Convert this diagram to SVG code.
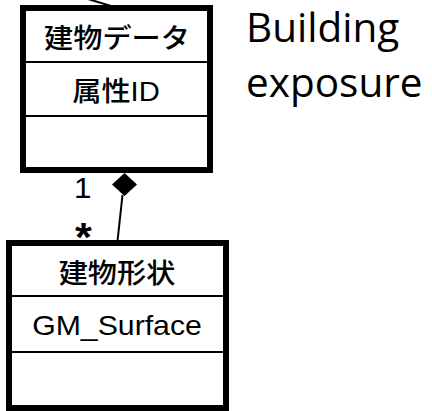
<svg xmlns="http://www.w3.org/2000/svg" width="432" height="411" viewBox="0 0 432 411">
<style>
.box{fill:#fff;stroke:#000;stroke-width:6}
.div{stroke:#000;stroke-width:2}
.jp{font-family:"Liberation Sans","Noto Sans CJK JP",sans-serif;font-size:27px;font-weight:500;fill:#000;text-anchor:middle}
.lbl{font-family:"Liberation Sans",Arial,sans-serif;font-size:28px;fill:#000}
.note{font-family:"Open Sans","Noto Sans",sans-serif;font-size:40.5px;fill:#000}
.conn{stroke:#000;stroke-width:2;fill:none}
</style>
<g id="connectors">
<line class="conn" x1="88" y1="-1" x2="111" y2="6"/>
<line class="conn" x1="122.5" y1="195" x2="117.5" y2="241"/>
<polygon points="124.5,173 137,184.5 124.5,196 112,184.5" fill="#000"/>
<text class="lbl" transform="matrix(1.08 0 0 1 74 197.5)" style="font-size:29px">1</text>
<text class="lbl" transform="matrix(1.08 0 0 1 75 251)" style="font-size:40px;font-weight:bold">*</text>
</g>
<g id="node-building-data">
<rect class="box" x="23" y="8" width="187" height="162"/>
<line class="div" x1="23" y1="62" x2="210" y2="62"/>
<line class="div" x1="23" y1="116" x2="210" y2="116"/>
<text class="jp" transform="matrix(1.08 0 0 1 117 48)">建物データ</text>
<text class="jp" transform="matrix(1.08 0 0 1 116 101)">属性ID</text>
</g>
<g id="node-building-shape">
<rect class="box" x="9" y="243" width="217" height="165"/>
<line class="div" x1="9" y1="296" x2="226" y2="296"/>
<line class="div" x1="9" y1="352" x2="226" y2="352"/>
<text class="jp" transform="matrix(1.08 0 0 1 117 283)">建物形状</text>
<text class="lbl" transform="matrix(1.08 0 0 1 117 335)" text-anchor="middle">GM_Surface</text>
</g>
<g id="note">
<text class="note" x="246" y="42">Building</text>
<text class="note" x="246" y="97">exposure</text>
</g>
</svg>
